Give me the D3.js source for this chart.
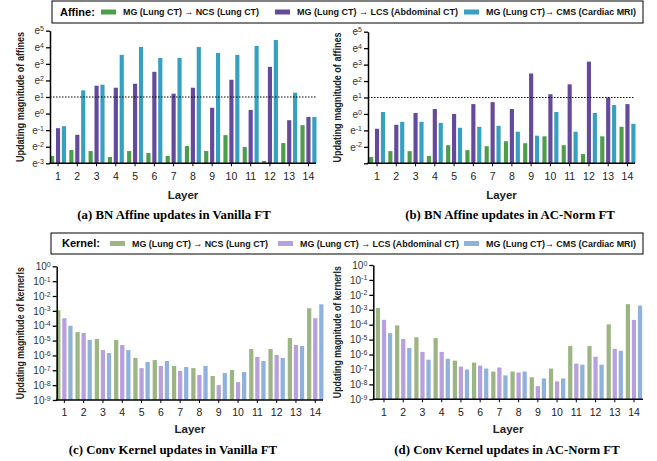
<!DOCTYPE html>
<html>
<head>
<meta charset="utf-8">
<script src="https://cdn.jsdelivr.net/npm/d3@7"></script>
<style>
  body { margin: 0; background: #fff; }
  svg { display: block; font-family: "Liberation Sans", Arial, sans-serif; }
</style>
</head>
<body>
<svg id="chart" width="657" height="461"></svg>
<script>
// layers on the x axis
var layers = [1, 2, 3, 4, 5, 6, 7, 8, 9, 10, 11, 12, 13, 14];

var affineSeries = ['MG (Lung CT) \u2192 NCS (Lung CT)', 'MG (Lung CT) \u2192 LCS (Abdominal CT)', 'MG (Lung CT)\u2192 CMS (Cardiac MRI)'];
var kernelSeries = ['MG (Lung CT) \u2192 NCS (Lung CT)', 'MG (Lung CT) \u2192 LCS (Abdominal CT)', 'MG (Lung CT)\u2192 CMS (Cardiac MRI)'];

// BN affine updates, natural-log exponents (value = e^x)
var vanillaNcsLn = [-2.56, -2.2, -2.26, -2.62, -2.26, -2.38, -2.56, -1.96, -2.26, -1.3, -2.02, -2.86, -1.78, -0.7];
var vanillaLcsLn = [-0.88, -1.28, 1.68, 1.56, 1.8, 2.52, 1.2, 1.56, 0.35, 2.04, 0.22, 2.82, -0.4, -0.2];
var vanillaCmsLn = [-0.76, 1.4, 1.74, 3.54, 4.02, 3.36, 3.36, 4.02, 3.66, 3.54, 4.08, 4.44, 1.26, -0.2];

var acNormNcsLn = [-2.62, -2.26, -2.26, -2.56, -1.9, -2.2, -1.96, -1.66, -1.78, -1.36, -1.9, -2.44, -1.36, -0.78];
var acNormLcsLn = [-0.9, -0.66, 0.06, 0.3, 0, 0.6, 0.72, 0.3, 2.46, 1.2, 1.8, 3.18, 1.0, 0.6];
var acNormCmsLn = [0.12, -0.48, -0.48, -0.54, -0.84, -0.78, -0.72, -1.08, -1.32, 0.12, -1.08, 0.06, 0.54, -0.6];

// conv kernel updates
var vanillaNcsKernel = [1.1e-3, 3.7e-5, 1.26e-5, 1.1e-5, 6.8e-7, 4.9e-7, 1.95e-7, 1.4e-7, 4.1e-8, 1.05e-7, 2.7e-6, 2.7e-6, 1.5e-5, 1.5e-3];
var vanillaLcsKernel = [3.2e-4, 3.2e-5, 2.3e-6, 5e-6, 1.4e-7, 1.95e-7, 8.9e-8, 4.8e-8, 1.0e-8, 1.6e-8, 7.9e-7, 1.07e-6, 5e-6, 3.2e-4];
var vanillaCmsKernel = [9.8e-5, 1.1e-5, 1.45e-6, 2.3e-6, 3.6e-7, 4.2e-7, 1.66e-7, 1.95e-7, 6.6e-8, 7.6e-8, 4.2e-7, 6.8e-7, 4.3e-6, 2.75e-3];

var acNormNcsKernel = [1.3e-3, 9e-5, 1.45e-5, 1.26e-5, 3.9e-7, 2.9e-7, 7.2e-8, 7.2e-8, 3.0e-8, 1.15e-7, 3.7e-6, 3.7e-6, 1.05e-4, 2.4e-3];
var acNormLcsKernel = [2.1e-4, 1.1e-5, 1.5e-6, 1.5e-6, 1.55e-7, 1.8e-7, 1.35e-7, 6.3e-8, 7.6e-9, 1.6e-8, 2.45e-7, 7.1e-7, 2.4e-6, 2.1e-4];
var acNormCmsKernel = [2.7e-5, 2.75e-6, 4.5e-7, 5.2e-7, 1.0e-7, 1.15e-7, 4.0e-8, 7.2e-8, 2.5e-8, 2.5e-8, 2.1e-7, 2.1e-7, 1.8e-6, 1.9e-3];

var affineColors = ['#4c9e4a', '#654a9c', '#35a0c0'];
var kernelColors = ['#9db585', '#b7a0dc', '#8fb2dd'];

var svg = d3.select('#chart');

function drawPanel(cfg) {
    var g = svg.append('g');
    var x = d3.scaleBand().domain(layers).range(cfg.xRange)
        .paddingInner(cfg.pad).paddingOuter(cfg.pad / 2);
    var inner = d3.scaleBand().domain([0, 1, 2]).range([0, x.bandwidth()]).paddingInner(0.3);
    var y = cfg.y;
    var base = y.range()[0];

    cfg.series.forEach(function (vals, si) {
        g.append('g').selectAll('rect')
            .data(vals)
            .join('rect')
            .attr('x', function (d, i) { return x(layers[i]) + inner(si); })
            .attr('width', inner.bandwidth())
            .attr('y', function (d) { return y(d); })
            .attr('height', function (d) { return base - y(d); })
            .attr('fill', cfg.colors[si]);
    });

    if (cfg.dashAt) {
        g.append('line')
            .attr('x1', cfg.axisX).attr('x2', cfg.axisEnd)
            .attr('y1', y(cfg.dashAt)).attr('y2', y(cfg.dashAt))
            .attr('stroke', '#000').attr('stroke-width', 1)
            .attr('stroke-dasharray', '1.5,1.5');
    }

    // y axis
    var ya = g.append('g')
        .attr('transform', 'translate(' + cfg.axisX + ',0)')
        .call(d3.axisLeft(y).tickValues(cfg.ticks).tickSize(4).tickSizeOuter(0).tickPadding(2));
    ya.select('.domain').attr('stroke-width', 1.5);
    ya.selectAll('.tick line').attr('stroke-width', 1.3);
    ya.selectAll('.tick text')
        .attr('font-size', 10).attr('fill', '#333')
        .text(null)
        .each(function (v) {
            var t = d3.select(this);
            var ex = cfg.exponent(v);
            if (cfg.hideExp && cfg.hideExp.indexOf(ex) >= 0) return;
            t.append('tspan').text(cfg.baseLabel);
            t.append('tspan').attr('dy', '-0.45em').attr('font-size', 7).text(ex);
        });

    // x axis
    var xa = g.append('g')
        .attr('transform', 'translate(0,' + base + ')')
        .call(d3.axisBottom(x).tickSize(3).tickSizeOuter(0).tickPadding(6));
    xa.select('.domain').remove();
    xa.selectAll('.tick line').attr('stroke-width', 1);
    xa.selectAll('.tick text').attr('font-size', 10.5).attr('fill', '#222');
    g.append('line')
        .attr('x1', cfg.axisX - 0.75).attr('x2', cfg.axisEnd)
        .attr('y1', base).attr('y2', base)
        .attr('stroke', '#000').attr('stroke-width', 1.5);

    // titles
    g.append('text')
        .attr('transform', 'translate(' + cfg.titleX + ',' + ((y.range()[0] + y.range()[1]) / 2) + ') rotate(-90)')
        .attr('text-anchor', 'middle').attr('dy', '0.35em')
        .attr('font-size', 10).attr('font-weight', 'bold').attr('fill', '#222')
        .attr('textLength', cfg.titleLen).attr('lengthAdjust', 'spacingAndGlyphs')
        .text(cfg.yTitle);
    g.append('text')
        .attr('x', (cfg.axisX + cfg.axisEnd) / 2).attr('y', cfg.layerY)
        .attr('text-anchor', 'middle').attr('dy', '0.35em')
        .attr('font-size', 11.5).attr('font-weight', 'bold').attr('fill', '#222')
        .text('Layer');
    g.append('text')
        .attr('x', cfg.captionX).attr('y', cfg.captionY)
        .attr('text-anchor', 'middle').attr('dy', '0.35em')
        .attr('font-family', '"Liberation Serif", "Times New Roman", serif')
        .attr('font-size', 12.8).attr('font-weight', 'bold')
        .text(cfg.caption);
}

function drawLegend(cfg) {
    var g = svg.append('g');
    g.append('rect')
        .attr('x', cfg.box[0]).attr('y', cfg.box[1])
        .attr('width', cfg.box[2]).attr('height', cfg.box[3])
        .attr('fill', '#fff').attr('stroke', '#000').attr('stroke-width', 1);
    var cy = cfg.box[1] + cfg.box[3] / 2;
    g.append('text')
        .attr('x', cfg.titleX).attr('y', cy).attr('dy', '0.35em')
        .attr('font-size', 11).attr('font-weight', 'bold')
        .text(cfg.title);
    cfg.names.forEach(function (name, i) {
        g.append('rect')
            .attr('x', cfg.swatchX[i]).attr('y', cy - 2.5)
            .attr('width', 15).attr('height', 5)
            .attr('fill', cfg.colors[i]);
        g.append('text')
            .attr('x', cfg.swatchX[i] + 22).attr('y', cy).attr('dy', '0.35em')
            .attr('font-size', 9.5).attr('font-weight', 'bold').attr('fill', '#111')
            .attr('textLength', cfg.textLen[i]).attr('lengthAdjust', 'spacingAndGlyphs')
            .text(name);
    });
}

var lnTicks = d3.range(-3, 6).map(Math.exp);
var lnExp = function (v) { return String(Math.round(Math.log(v))); };
var tenTicks = d3.range(-9, 1).map(function (k) { return Math.pow(10, k); });
var tenExp = function (v) { return String(Math.round(Math.log10(v))); };

drawPanel({
    xRange: [48.4, 318.1], pad: 0.17, axisX: 50, axisEnd: 316,
    y: d3.scaleLog().base(Math.E).domain([Math.exp(-3), Math.exp(5)]).range([163.3, 30.7]),
    ticks: lnTicks, exponent: lnExp, baseLabel: 'e',
    series: [vanillaNcsLn, vanillaLcsLn, vanillaCmsLn].map(function (a) { return a.map(Math.exp); }),
    colors: affineColors, dashAt: Math.E,
    yTitle: 'Updating magnitude of affines', titleX: 20, titleLen: 130,
    layerY: 195, caption: '(a) BN Affine updates in Vanilla FT', captionX: 174, captionY: 215
});

drawPanel({
    xRange: [367.4, 637.1], pad: 0.17, axisX: 368, axisEnd: 635,
    y: d3.scaleLog().base(Math.E).domain([Math.exp(-3), Math.exp(5)]).range([163.3, 31.7]),
    ticks: lnTicks, exponent: lnExp, baseLabel: 'e', hideExp: ['-3'],
    series: [acNormNcsLn, acNormLcsLn, acNormCmsLn].map(function (a) { return a.map(Math.exp); }),
    colors: affineColors, dashAt: Math.E,
    yTitle: 'Updating magnitude of affines', titleX: 337, titleLen: 130,
    layerY: 195, caption: '(b) BN Affine updates in AC-Norm FT', captionX: 510, captionY: 215
});

drawPanel({
    xRange: [54.7, 324.9], pad: 0.15, axisX: 56.7, axisEnd: 323,
    y: d3.scaleLog().domain([1e-9, 1]).range([400, 266.3]),
    ticks: tenTicks, exponent: tenExp, baseLabel: '10',
    series: [vanillaNcsKernel, vanillaLcsKernel, vanillaCmsKernel],
    colors: kernelColors,
    yTitle: 'Updating magnitude of kernerls', titleX: 20, titleLen: 132,
    layerY: 429, caption: '(c) Conv Kernel updates in Vanilla FT', captionX: 173, captionY: 450
});

drawPanel({
    xRange: [374.4, 643.6], pad: 0.15, axisX: 373.3, axisEnd: 643,
    y: d3.scaleLog().domain([1e-9, 1]).range([399.3, 265]),
    ticks: tenTicks, exponent: tenExp, baseLabel: '10',
    series: [acNormNcsKernel, acNormLcsKernel, acNormCmsKernel],
    colors: kernelColors,
    yTitle: 'Updating magnitude of kernerls', titleX: 337, titleLen: 132,
    layerY: 429, caption: '(d) Conv Kernel updates in AC-Norm FT', captionX: 507, captionY: 450
});

drawLegend({
    box: [52, 1, 591, 22], title: 'Affine:', titleX: 60,
    swatchX: [101, 275, 464], names: affineSeries, colors: affineColors,
    textLen: [136, 161, 150]
});
drawLegend({
    box: [51, 233, 592, 21], title: 'Kernel:', titleX: 62,
    swatchX: [110, 278, 464], names: kernelSeries, colors: kernelColors,
    textLen: [136, 159, 150]
});
</script>
</body>
</html>
